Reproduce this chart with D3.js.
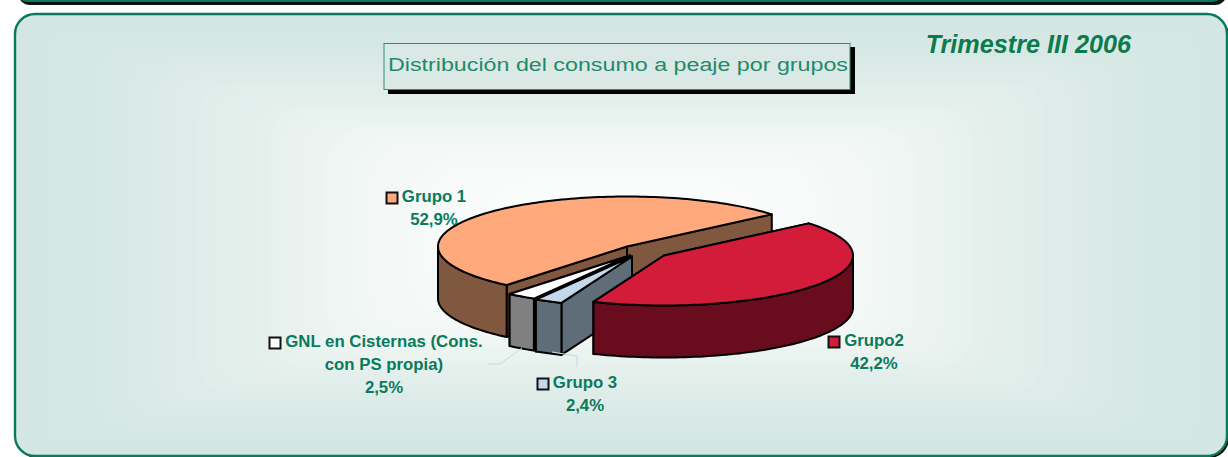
<!DOCTYPE html>
<html><head><meta charset="utf-8">
<script src="https://cdn.jsdelivr.net/npm/d3@7/dist/d3.min.js"></script>
<style>html,body{margin:0;padding:0;background:#fff;overflow:hidden}svg{display:block}text{font-family:"Liberation Sans",Arial,sans-serif}</style>
</head><body><svg id="c" width="1228" height="457"></svg>
<script>
const categories = ["Grupo2","Grupo 3","GNL en Cisternas (Cons. con PS propia)","Grupo 1"];
const values = [42.2,2.4,2.5,52.9];
const topColors = ["#d21c3a","#c3d9eb","#ffffff","#ffa97c"];
const wallColors = ["#690c1d","#5f6d78","#808080","#80573f"];
const explodeX = [37,5,3,0];
const explodeY = [9,10,9,0];
const labelLines = [["Grupo2","42,2%"],["Grupo 3","2,4%"],["GNL en Cisternas (Cons.","con PS propia)","2,5%"],["Grupo 1","52,9%"]];
const labelCx = [874,585,384,434];
const labelTop = [341,383,342,197];
const keyX = [828,537,269,386];
const title = "Distribución del consumo a peaje por grupos";
const period = "Trimestre III 2006";

const svg = d3.select("#c");

// top strip of the previous panel
svg.append("rect").attr("x",18).attr("y",-30).attr("width",1209).attr("height",35).attr("rx",12).attr("fill","#111");
svg.append("rect").attr("x",16).attr("y",-30).attr("width",1208).attr("height",32).attr("rx",12).attr("fill","#0a7a5c");
// panel
svg.append("rect").attr("x",17).attr("y",16).attr("width",1212).attr("height",442).attr("rx",20).attr("fill","#000");
svg.append("rect").attr("x",15).attr("y",14).attr("width",1212).attr("height",442).attr("rx",20).attr("fill","#d3e6e3");
// stepped path gradient: nested rounded rectangles, as in the original
const W=1212,H=442,steps=36;
const shade=d3.scaleLinear().domain([0,.2,.45,.7,1]).range(["#d3e6e3","#d8e9e5","#e4efec","#f3f8f6","#fbfdfc"]);
d3.range(1,steps).forEach(k=>{
  const t=k/steps, ix=t*W*.42, iy=t*H*.40;
  svg.append("rect").attr("x",15+ix).attr("y",14+iy+5).attr("width",W-2*ix).attr("height",H-2*iy-5)
    .attr("rx",20+t*30).attr("fill",shade(t));
});
svg.append("rect").attr("x",15).attr("y",14).attr("width",1212).attr("height",442).attr("rx",20)
  .attr("fill","none").attr("stroke","#0a7a5c").attr("stroke-width",2.4);

// title
svg.append("rect").attr("x",388).attr("y",47).attr("width",467).attr("height",47).attr("fill","#000");
svg.append("rect").attr("x",384).attr("y",43.5).attr("width",466).attr("height",46).attr("fill","#dbe9e6").attr("stroke","#2f8f73").attr("stroke-width",1);
svg.append("text").attr("x",388).attr("y",71).attr("font-size",17.5).attr("textLength",460).attr("lengthAdjust","spacingAndGlyphs").attr("fill","#1f8a68").text(title);
svg.append("text").attr("x",1131).attr("y",53).attr("text-anchor","end").attr("font-size",25.2).attr("font-weight","bold").attr("font-style","italic").attr("fill","#0b7a4f").text(period);

// pie
const cx=627, cy=246.5, rx=189, ry=50, depth=52;
const start=50*Math.PI/180;
const arcs=d3.pie().sort(null).value(d=>d).startAngle(start).endAngle(start+2*Math.PI)(values);
const line=d3.line();
const pt=(a,dx,dy,z=0)=>[cx+dx+rx*Math.sin(a), cy+dy-ry*Math.cos(a)+z];
const rim=(a0,a1,dx,dy,z=0)=>{const n=Math.max(2,Math.ceil(Math.abs(a1-a0)*40));return d3.range(n+1).map(i=>pt(a0+(a1-a0)*i/n,dx,dy,z));};
const pie=svg.append("g").attr("stroke","#000").attr("stroke-width",2).attr("stroke-linejoin","round");
[3,2,1,0].forEach(i=>{
  const d=arcs[i],dx=explodeX[i],dy=explodeY[i],ap=[cx+dx,cy+dy],apB=[cx+dx,cy+dy+depth];
  [d.endAngle,d.startAngle].forEach(a=>{
    const p=pt(a,dx,dy),q=pt(a,dx,dy,depth);
    pie.append("path").attr("d",line([ap,p,q,apB])+"Z").attr("fill",wallColors[i]);
  });
  const a0=Math.max(d.startAngle,Math.PI/2),a1=Math.min(d.endAngle,3*Math.PI/2);
  if(a1>a0) pie.append("path").attr("d",line(rim(a0,a1,dx,dy).concat(rim(a1,a0,dx,dy,depth)))+"Z").attr("fill",wallColors[i]);
  pie.append("path").attr("d",line([ap].concat(rim(d.startAngle,d.endAngle,dx,dy)))+"Z").attr("fill",topColors[i]);
});

// leaders
const lead=svg.append("g").attr("fill","none").attr("stroke","#c3d9eb").attr("stroke-width",1);
lead.append("path").attr("d",line([[488,364],[500,364],[522,348]]));
lead.append("path").attr("d",line([[552,352],[577,356],[577,367]]));

// labels
categories.forEach((c,i)=>{
  const lh=23, t=svg.append("text").attr("text-anchor","middle").attr("font-size",16.8).attr("font-weight","bold").attr("fill","#0a7a5c");
  labelLines[i].forEach((s,k)=>{
    t.append("tspan").attr("x",labelCx[i]).attr("y",labelTop[i]+5+k*lh).text(s);
  });
  svg.append("rect").attr("x",keyX[i]+.5).attr("y",labelTop[i]-5+.5).attr("width",11).attr("height",11).attr("fill",topColors[i]).attr("stroke","#111").attr("stroke-width",2);
});
</script></body></html>
